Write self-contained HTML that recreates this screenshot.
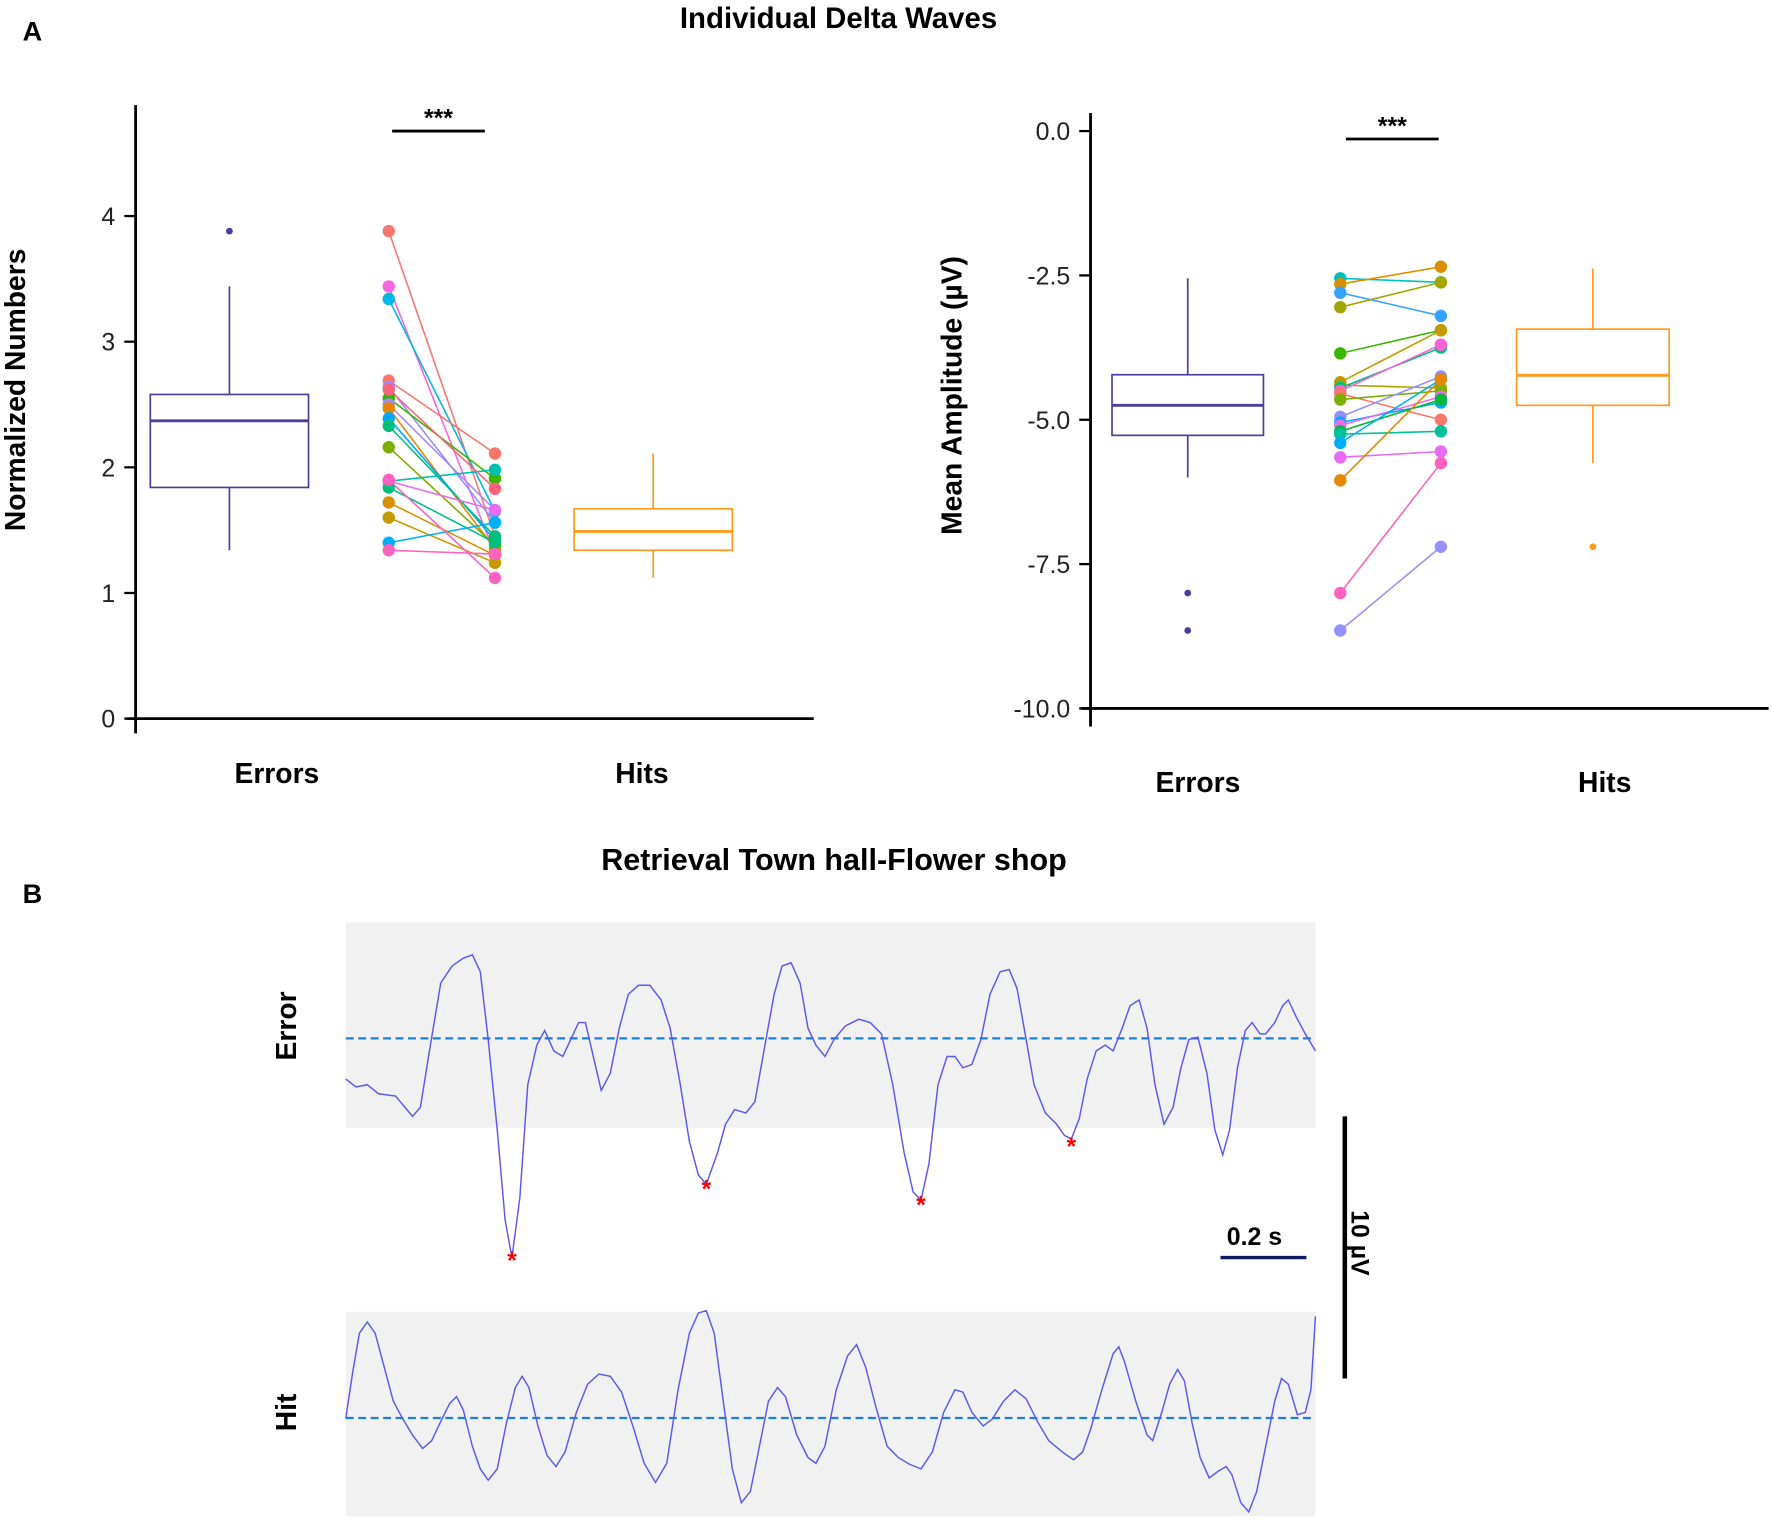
<!DOCTYPE html>
<html><head><meta charset="utf-8"><style>
html,body{margin:0;padding:0;background:#fff}
svg{display:block}
text{font-family:"Liberation Sans",Arial,sans-serif}
</style></head><body>
<svg id="fig" width="1772" height="1522" viewBox="0 0 1568 1347" preserveAspectRatio="none" xmlns="http://www.w3.org/2000/svg">
<text x="20" y="36" font-size="24" font-weight="bold">A</text>
<text x="742" y="25" font-size="26" font-weight="bold" text-anchor="middle">Individual Delta Waves</text>
<text x="20" y="799" font-size="24" font-weight="bold">B</text>
<text x="738" y="770" font-size="27" font-weight="bold" text-anchor="middle">Retrieval Town hall-Flower shop</text>
<g id="left"></g>
<g id="right"></g>
<g id="traces"></g>
</svg>
<script>
// ---- Left chart data (Normalized Numbers)
const leftTicks = [0,1,2,3,4];
const leftCategories = ["Errors","Hits"];
const leftErrBox = [1.34,1.84,2.37,2.58,3.44]; // min,q1,med,q3,max
const leftErrOutliers = [3.88];
const leftHitBox = [1.12,1.34,1.49,1.67,2.11];
const leftHitOutliers = [];
const leftPairErr = [3.88,3.44,3.34,2.69,2.64,2.55,2.50,2.47,2.39,2.33,2.16,1.89,1.89,1.84,1.72,1.60,1.40,1.34,2.62,1.90];
const leftPairHit = [1.45,1.31,1.65,2.11,1.56,1.91,1.66,1.35,1.42,1.45,1.38,1.98,1.66,1.40,1.30,1.24,1.56,1.31,1.83,1.12];
// ---- Right chart data (Mean Amplitude µV)
const rightTicks = [0,-2.5,-5,-7.5,-10];
const rightErrBox = [-6.0,-5.27,-4.75,-4.22,-2.55];
const rightErrOutliers = [-8.0,-8.65];
const rightHitBox = [-5.75,-4.75,-4.23,-3.43,-2.38];
const rightHitOutliers = [-7.2];
const rightPairErr = [-2.55,-2.65,-2.8,-3.05,-3.85,-4.35,-4.4,-4.45,-4.5,-4.55,-4.65,-4.95,-5.05,-5.1,-5.2,-5.25,-5.4,-5.65,-6.05,-8.0,-8.65];
const rightPairHit = [-2.62,-2.35,-3.2,-2.62,-3.45,-3.45,-4.45,-3.75,-3.7,-5.0,-4.5,-4.25,-4.7,-4.6,-4.65,-5.2,-4.3,-5.55,-4.3,-5.75,-7.2];
const pairColorsL = ["#f8766d","#f564e3","#00b8e5","#f8766d","#9590ff","#39b600","#a58aff","#e58700","#00a9ff","#00bf7d","#7cae00","#00c0af","#e76bf3","#00bf7d","#d89000","#c49a00","#00b0f6","#ff62bc","#fd617b","#ff61c3"];
const pairColorsR = ["#00bfc4","#d89000","#35a2ff","#a3a500","#39b600","#c49a00","#a3a500","#00bf7d","#fb61d7","#f8766d","#7cae00","#9590ff","#00a9ff","#e76bf3","#00ba38","#00c19a","#00b0f6","#e76bf3","#e58700","#ff62bc","#9590ff"];
// ---- EEG traces: samples (380 per second) and amplitude counts (23.2 counts per µV)
const errT = [0,9,19,29,44,59,66,74,84,94, 104,112,119,126,134,141,147,154,161,169, 176,184,192,199,206,212,219,226,234,242, 250,259,269,279,287,296,304,312,319,329, 336,344,354,362,370,379,386,394,402,409, 416,424,432,442,454,464,474,484,494,502, 509,516,524,532,539,546,554,562,570,579, 587,594,602,609,619,629,636,642,649,656, 664,672,679,687,694,702,709,716,724,732, 739,746,754,762,769,776,782,789,796,802, 809,814,822,829,834,841,849,858];
const errV = [-36,-43,-41,-49,-51,-69,-61,-11,49,64, 71,74,59,-1,-81,-161,-194,-141,-41,-6, 7,-11,-16,-1,14,14,-16,-46,-31,9, 39,47,47,34,9,-41,-91,-121,-129,-101, -76,-63,-66,-56,-11,39,64,67,49,9, -6,-16,-1,11,17,14,4,-41,-101,-136, -143,-111,-41,-16,-16,-26,-23,-1,39,59, 61,44,-1,-41,-66,-76,-86,-89,-71,-36, -11,-6,-11,9,29,34,9,-41,-76,-61, -26,-1,1,-31,-81,-103,-81,-26,7,14, 4,4,14,29,34,19,4,-11];
const errMarksT = [147,319,509,642];
const errMarksV = [-194,-131,-145,-93];
const hitT = [0,6,12,19,26,34,42,50,59,68, 76,84,92,98,104,112,119,126,134,142, 150,156,162,170,178,186,194,204,214,224, 234,244,254,264,274,284,294,304,312,319, 326,334,342,350,358,366,374,382,389,399, 409,416,424,434,444,452,460,469,479,489, 499,509,519,529,539,546,554,564,572,582, 592,602,612,622,634,644,652,659,669,679, 684,689,699,709,714,722,729,736,742,749, 756,764,772,779,784,792,799,806,814,822, 828,834,842,849,854,858];
const hitV = [0,40,75,85,75,45,15,0,-15,-27, -20,-3,13,19,7,-25,-45,-55,-45,-5, 27,37,27,-7,-33,-43,-30,5,30,39, 37,23,-7,-40,-57,-40,25,75,93,95, 75,15,-45,-75,-65,-25,15,27,19,-15, -35,-40,-25,25,55,65,45,10,-25,-35, -41,-45,-30,5,25,23,5,-7,-1,15, 25,17,-3,-20,-30,-37,-30,-10,25,57, 63,50,15,-15,-20,5,30,43,33,-5, -35,-53,-47,-43,-50,-75,-83,-65,-25,15, 35,30,3,5,25,90];

const NS="http://www.w3.org/2000/svg";
function mk(parent,tag,attrs,text){const e=document.createElementNS(NS,tag);for(const k in attrs)e.setAttribute(k,attrs[k]);if(text!==undefined)e.textContent=text;parent.appendChild(e);return e;}

function drawChart(g,cfg){
  const y=cfg.y;
  let e;
  e=mk(g,'line',{x1:cfg.ax,y1:cfg.axTop,x2:cfg.ax,y2:cfg.axBot,stroke:'#000','stroke-width':2.5});
  
  
  e=mk(g,'line',{x1:cfg.ax-8,y1:y(cfg.base),x2:cfg.xEnd,y2:y(cfg.base),stroke:'#000','stroke-width':2.5});
  
  
  cfg.ticks.forEach(t=>{
    e=mk(g,'line',{x1:cfg.ax-10,y1:y(t),x2:cfg.ax,y2:y(t),stroke:'#000','stroke-width':2});
    
    
    e=mk(g,'text',{x:cfg.ax-18,y:y(t)+8,'font-size':22,'text-anchor':'end',fill:'#222'},cfg.fmt(t));
    
    
  });
  e=mk(g,'text',{x:cfg.ylx,y:cfg.yly,'font-size':25,'font-weight':'bold','text-anchor':'middle',transform:`rotate(-90 ${cfg.ylx} ${cfg.yly})`},cfg.ylabel);
  
  
  leftCategories.forEach((c,i)=>{
    e=mk(g,'text',{x:cfg.catX[i],y:cfg.catY,'font-size':25,'font-weight':'bold','text-anchor':'middle'},c);
    
    
  });
  [[cfg.errBox,cfg.errOut,cfg.boxE,'#4d3f99','errors'],[cfg.hitBox,cfg.hitOut,cfg.boxH,'#ff9a1f','hits']].forEach(([b,o,bx,col,nm])=>{
    const cx=(bx[0]+bx[1])/2;
    e=mk(g,'line',{x1:cx,y1:y(b[0]),x2:cx,y2:y(b[1]),stroke:col,'stroke-width':1.5});
    
    
    e=mk(g,'line',{x1:cx,y1:y(b[3]),x2:cx,y2:y(b[4]),stroke:col,'stroke-width':1.5});
    
    
    e=mk(g,'rect',{x:bx[0],y:y(b[3]),width:bx[1]-bx[0],height:y(b[1])-y(b[3]),fill:'none',stroke:col,'stroke-width':1.5});
    
    
    e=mk(g,'line',{x1:bx[0],y1:y(b[2]),x2:bx[1],y2:y(b[2]),stroke:col,'stroke-width':2.5});
    
    
    o.forEach(v=>{
      e=mk(g,'circle',{cx:cx,cy:y(v),r:3,fill:col});
      
      
    });
  });
  cfg.pe.forEach((v,i)=>{
    const col=cfg.cols[i%cfg.cols.length];
    e=mk(g,'line',{x1:cfg.px[0],y1:y(v),x2:cfg.px[1],y2:y(cfg.ph[i]),stroke:col,'stroke-width':1.4});
    
    
  });
  cfg.pe.forEach((v,i)=>{
    const col=cfg.cols[i%cfg.cols.length];
    e=mk(g,'circle',{cx:cfg.px[0],cy:y(v),r:5.5,fill:col});
    
    
    e=mk(g,'circle',{cx:cfg.px[1],cy:y(cfg.ph[i]),r:5.5,fill:col});
    
    
  });
  e=mk(g,'line',{x1:cfg.sig[0],y1:cfg.sig[2],x2:cfg.sig[1],y2:cfg.sig[2],stroke:'#000','stroke-width':2.5});
  
  
  e=mk(g,'text',{x:(cfg.sig[0]+cfg.sig[1])/2,y:cfg.sig[2]-4,'font-size':22,'font-weight':'bold','text-anchor':'middle'},'***');
  
  
}

drawChart(document.getElementById('left'),{
  y:v=>636-v*111.2, ticks:leftTicks, base:0, fmt:t=>String(t),
  ax:120, axTop:93, axBot:649, xEnd:720,
  ylx:22, yly:345, ylabel:'Normalized Numbers', catX:[245,568], catY:693,
  errBox:leftErrBox, errOut:leftErrOutliers, hitBox:leftHitBox, hitOut:leftHitOutliers,
  boxE:[133,273], boxH:[508,648], px:[344,438], pe:leftPairErr, ph:leftPairHit, cols:pairColorsL,
  sig:[347,429,116]
});
drawChart(document.getElementById('right'),{
  y:v=>116-v*51.1, ticks:rightTicks, base:-10, fmt:t=>t.toFixed(1),
  ax:965, axTop:100, axBot:643, xEnd:1565,
  ylx:851, yly:350, ylabel:'Mean Amplitude  (µV)', catX:[1060,1420], catY:701,
  errBox:rightErrBox, errOut:rightErrOutliers, hitBox:rightHitBox, hitOut:rightHitOutliers,
  boxE:[984,1118], boxH:[1342,1477], px:[1186,1275], pe:rightPairErr, ph:rightPairHit, cols:pairColorsR,
  sig:[1191,1273,123]
});

// ---- traces
(function(){
  const g=document.getElementById('traces');
  const tx=t=>306+t;          // 380 samples per second -> 380 units / s
  const errY=v=>919-v, hitY=v=>1255-v;
  let e;
  [[816,998,919,'error'],[1161,1342,1255,'hit']].forEach(([t,b,base,nm])=>{
    e=mk(g,'rect',{x:306,y:t,width:858,height:b-t,fill:'#f1f1f1'});
    
    
    e=mk(g,'line',{x1:306,y1:base,x2:1164,y2:base,stroke:'#1e7fd6','stroke-width':2,'stroke-dasharray':'7,4'});
    
    
  });
  e=mk(g,'polyline',{points:errT.map((t,i)=>tx(t)+','+errY(errV[i])).join(' '),fill:'none',stroke:'#5a5af0','stroke-width':1.3});
  
  
  e=mk(g,'polyline',{points:hitT.map((t,i)=>tx(t)+','+hitY(hitV[i])).join(' '),fill:'none',stroke:'#5a5af0','stroke-width':1.3});
  
  
  errMarksT.forEach((t,i)=>{
    e=mk(g,'text',{x:tx(t),y:errY(errMarksV[i])+10,'font-size':22,'font-weight':'bold',fill:'#ff0000','text-anchor':'middle'},'*');
    
    
  });
  e=mk(g,'text',{x:262,y:908,'font-size':25,'font-weight':'bold','text-anchor':'middle',transform:'rotate(-90 262 908)'},'Error');
  
  
  e=mk(g,'text',{x:262,y:1250,'font-size':25,'font-weight':'bold','text-anchor':'middle',transform:'rotate(-90 262 1250)'},'Hit');
  
  
  e=mk(g,'line',{x1:1190,y1:988,x2:1190,y2:1220,stroke:'#000','stroke-width':4});
  
  
  e=mk(g,'text',{x:1196,y:1100,'font-size':22,'font-weight':'bold','text-anchor':'middle',transform:'rotate(90 1196 1100)'},'10 µV');
  
  
  e=mk(g,'line',{x1:1080,y1:1113,x2:1156,y2:1113,stroke:'#0a1a5c','stroke-width':3});
  
  
  e=mk(g,'text',{x:1110,y:1102,'font-size':22,'font-weight':'bold','text-anchor':'middle'},'0.2 s');
  
  
})();
</script>
</body></html>
